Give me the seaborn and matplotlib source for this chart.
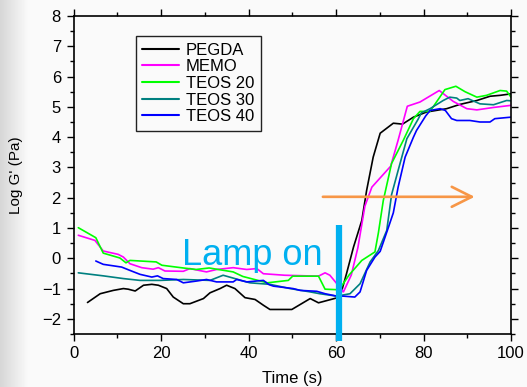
import numpy as np
import pandas as pd
import matplotlib
matplotlib.use("Agg")
import matplotlib.pyplot as plt
import seaborn as sns

# ---------------- data ----------------
series_names = ["PEGDA", "MEMO", "TEOS 20", "TEOS 30", "TEOS 40"]
series_colors = ["#000000", "#ff00ff", "#00ff00", "#008080", "#0000ff"]

pegda_t = [3.2, 6.1, 9.1, 11.4, 12.5, 14.1, 16, 17.9, 19.4, 21.3, 22.8, 25.1, 26.6, 29.7,
           31.2, 33.5, 35, 36.9, 39.2, 41.5, 43.4, 44.9, 49.9, 54.1, 56, 60.9, 62.4, 64, 65.9,
           67, 68.5, 70.1, 73.1, 75.2, 77.7, 80.7, 85.3, 88.3, 92.2, 95.2, 97.5, 100]
pegda_v = [-1.46, -1.17, -1.06, -1.0, -1.02, -1.08, -0.89, -0.86, -0.89, -1.0, -1.28, -1.5,
           -1.5, -1.33, -1.14, -1.0, -0.89, -1.0, -1.3, -1.36, -1.55, -1.69, -1.69, -1.33,
           -1.47, -1.28, -0.51, 0.37, 1.25, 2.24, 3.34, 4.13, 4.46, 4.43, 4.66, 4.83, 4.94,
           5.08, 5.21, 5.35, 5.38, 5.43]

memo_t = [1.1, 4.9, 6.8, 10.2, 11.4, 12.9, 15.6, 18.2, 19.4, 20.9, 25.1, 26.6, 30.4, 32.7,
          36.5, 39.6, 41.9, 43.4, 48.3, 56, 57.5, 58.6, 60.2, 61.7, 63.5, 65, 66.6, 68.2,
          72.5, 74.2, 76.3, 79.2, 83.6, 86.8, 89.9, 92.2, 96, 100]
memo_v = [0.76, 0.59, 0.24, 0.13, 0.04, -0.18, -0.31, -0.36, -0.31, -0.42, -0.43, -0.34,
          -0.45, -0.37, -0.31, -0.37, -0.34, -0.51, -0.56, -0.59, -0.48, -0.56, -0.84, -1.11,
          -0.55, 0.35, 1.72, 2.35, 3.04, 3.9, 5.02, 5.16, 5.54, 5.18, 4.94, 4.9, 4.98, 5.05]

teos20_t = [1.1, 5.1, 6.8, 10.6, 12, 12.9, 18.9, 20.2, 25.1, 28, 31, 36.5, 38.7, 44.3, 49.1,
            50.1, 56, 57.5, 60.7, 63, 65.9, 68.9, 69.7, 70.8, 72.7, 75.4, 77.7, 79.2, 81.5,
            84.9, 87.4, 89.5, 92.2, 94.4, 97.5, 99, 100]
teos20_v = [1.01, 0.68, 0.17, 0.01, -0.15, -0.07, -0.12, -0.23, -0.32, -0.37, -0.32, -0.45,
            -0.6, -0.81, -0.73, -0.59, -0.59, -1.02, -1.04, -0.55, -0.07, 0.21, 0.85, 1.9,
            3.13, 3.9, 4.61, 4.85, 4.85, 5.57, 5.68, 5.5, 5.32, 5.38, 5.54, 5.52, 5.32]

teos30_t = [1.1, 6.8, 11.4, 15.2, 19.8, 25.1, 31.2, 34.2, 36.9, 40.3, 44.9, 49.5, 54.1, 56.3,
            60.2, 63.2, 65.5, 67.8, 69.7, 71.6, 72.7, 74.2, 76.2, 78.8, 79.5, 81.5, 84.5, 86,
            87.6, 88.3, 90.2, 92.9, 96, 99, 100]
teos30_v = [-0.48, -0.58, -0.67, -0.73, -0.73, -0.7, -0.73, -0.56, -0.67, -0.81, -0.86, -1.0,
            -1.11, -1.17, -1.25, -1.17, -0.84, -0.12, 0.26, 0.92, 2.1, 2.9, 3.95, 4.6, 4.8,
            4.94, 5.21, 5.32, 5.29, 5.21, 5.27, 5.1, 5.07, 5.21, 5.2]

teos40_t = [5.1, 6.8, 11, 12.9, 15.2, 17.9, 19.2, 20.5, 23.6, 25.1, 28.2, 30.4, 32.7, 36.5,
            37.3, 39.6, 43.4, 44.7, 45.7, 50.2, 51.8, 55.6, 57.5, 60.2, 61.7, 64.3, 65.5, 67,
            68.9, 70.1, 72, 73.1, 74.2, 75.8, 77.7, 78.4, 80.5, 81.5, 83.8, 85, 86.4, 87.6,
            90.6, 92.9, 95.2, 96.3, 100]
teos40_v = [-0.09, -0.2, -0.29, -0.4, -0.53, -0.62, -0.58, -0.67, -0.7, -0.81, -0.75, -0.7,
            -0.78, -0.78, -0.7, -0.78, -0.73, -0.87, -0.92, -1.0, -1.06, -1.09, -1.17, -1.25,
            -1.25, -1.28, -1.11, -0.4, 0.04, 0.23, 1.03, 1.5, 2.35, 3.34, 4.0, 4.22, 4.7, 4.88,
            4.94, 4.88, 4.61, 4.55, 4.55, 4.5, 4.5, 4.61, 4.66]

x_ticks = [0, 20, 40, 60, 80, 100]
y_ticks = [-2, -1, 0, 1, 2, 3, 4, 5, 6, 7, 8]
x_label = "Time (s)"
y_label = "Log G' (Pa)"
lamp_text = "Lamp on"
lamp_time = 60.7
arrow_start, arrow_end, arrow_level = 57.0, 91.7, 2.03

# ---------------- build frame ----------------
frames = []
for name, t, v in zip(series_names,
                      [pegda_t, memo_t, teos20_t, teos30_t, teos40_t],
                      [pegda_v, memo_v, teos20_v, teos30_v, teos40_v]):
    frames.append(pd.DataFrame({"time": t, "logG": v, "sample": name}))
df = pd.concat(frames, ignore_index=True)

# ---------------- figure ----------------
sns.set_theme(style="ticks")
plt.rcParams["font.family"] = ["Liberation Sans", "DejaVu Sans"]
plt.rcParams["text.color"] = "black"
plt.rcParams["axes.labelcolor"] = "black"
plt.rcParams["xtick.color"] = "black"
plt.rcParams["ytick.color"] = "black"
bg = "#fafafa"
fig = plt.figure(figsize=(5.27, 3.87), dpi=100, facecolor=bg)

# slide-like gradient on the left edge
bg_ax = fig.add_axes([0, 0, 1, 1], zorder=-5)
grad = np.ones((2, 527))
xs = np.arange(527)
grad[:] = np.clip(0.84 + 0.14 * (xs / 28.0), 0, 0.98)
bg_ax.imshow(grad, cmap="gray", vmin=0, vmax=1, aspect="auto", extent=[0, 1, 0, 1])
bg_ax.set_axis_off()

ax = fig.add_axes([73.5 / 527, 1 - 334 / 387, (511 - 73.5) / 527, (334 - 16) / 387])
ax.set_facecolor(bg)

sns.lineplot(data=df, x="time", y="logG", hue="sample", hue_order=series_names,
             palette=series_colors, estimator=None, sort=False, lw=1.2, ax=ax)

ax.set_xlim(0, 100)
ax.set_ylim(-2.5, 8)
ax.set_xticks(x_ticks)
ax.set_yticks(y_ticks)
ax.set_xticks(np.arange(10, 100, 20), minor=True)
ax.set_yticks(np.arange(-2.5, 8, 0.5), minor=True)
ax.tick_params(axis="both", which="major", direction="out", length=5, width=1,
               labelsize=12, color="black", labelcolor="black", pad=4)
ax.tick_params(axis="both", which="minor", direction="out", length=3, width=1, color="black")
ax.tick_params(right=True, top=True, which="both")
for s in ax.spines.values():
    s.set_linewidth(1.2)
    s.set_color("black")

ax.set_xlabel(x_label, fontsize=12, color="black")
ax.set_ylabel(y_label, fontsize=11, color="black")
ax.xaxis.set_label_coords(0.5, -0.115)
ax.yaxis.set_label_coords(-0.115, 0.5)

# legend
handles, labels = ax.get_legend_handles_labels()
ax.get_legend().remove()
leg = fig.legend(handles, labels, loc="upper left",
                 bbox_to_anchor=(135.7 / 527, 1 - 36 / 387),
                 fontsize=12, frameon=True, fancybox=False, edgecolor="#222222",
                 facecolor=bg, framealpha=1, borderpad=0.4, labelspacing=0.1,
                 handlelength=2.2, handletextpad=0.4, borderaxespad=0)
leg.get_frame().set_linewidth(1.0)
for h in leg.get_lines():
    h.set_linewidth(1.5)

# annotations
cyan = "#00b0f0"
ax.text(24.8, -0.23, lamp_text, color=cyan, fontsize=26, ha="left", va="baseline", zorder=5)
ax.plot([lamp_time, lamp_time], [-2.72, 1.09], color=cyan, lw=4.5, clip_on=False,
        solid_capstyle="butt", zorder=6)
ax.annotate("", xy=(arrow_end, arrow_level), xytext=(arrow_start, arrow_level),
            arrowprops=dict(arrowstyle="->", color="#f79646", lw=1.9, mutation_scale=36,
                            shrinkA=0, shrinkB=0), zorder=6)

fig.savefig("out.png", dpi=100, facecolor=bg)
